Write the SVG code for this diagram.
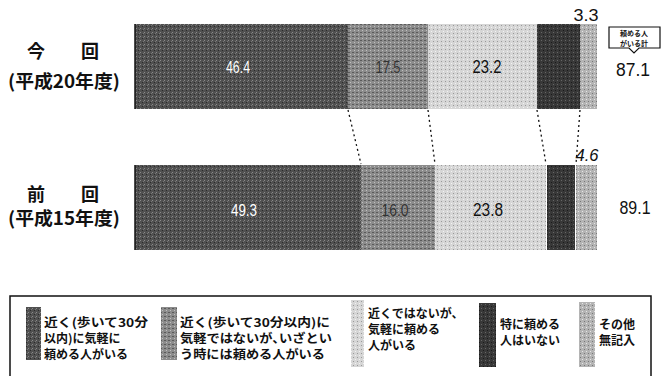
<svg xmlns="http://www.w3.org/2000/svg" width="671" height="376" viewBox="0 0 671 376">
<style>
.jp{font-family:"Noto Sans CJK JP","Noto Sans CJK SC",sans-serif;font-weight:bold;fill:#111}
.lg{font-family:"Noto Sans CJK JP","Noto Sans CJK SC",sans-serif;font-weight:bold;fill:#111;font-size:12px}
.num{font-family:"Liberation Sans","DejaVu Sans",sans-serif;text-anchor:middle}
.conn{stroke:#111;stroke-width:1.3;stroke-dasharray:2 3;fill:none}
</style>
<defs>
<pattern id="p1" width="4" height="4" patternUnits="userSpaceOnUse"><rect width="4" height="4" fill="#505050"/><rect x="0" y="0" width="1" height="1" fill="#8a8a8a"/><rect x="2" y="2" width="1" height="1" fill="#2a2a2a"/><rect x="3" y="1" width="1" height="1" fill="#777"/></pattern>
<pattern id="p2" width="4" height="4" patternUnits="userSpaceOnUse"><rect width="4" height="4" fill="#8c8c8c"/><rect x="0" y="0" width="2" height="1" fill="#5a5a5a"/><rect x="2" y="2" width="1" height="1" fill="#c0c0c0"/></pattern>
<pattern id="p3" width="4" height="4" patternUnits="userSpaceOnUse"><rect width="4" height="4" fill="#d6d6d6"/><rect x="1" y="1" width="1" height="1" fill="#999"/><rect x="3" y="3" width="1" height="1" fill="#f2f2f2"/></pattern>
<pattern id="p4" width="4" height="4" patternUnits="userSpaceOnUse"><rect width="4" height="4" fill="#383838"/><rect x="1" y="0" width="1" height="1" fill="#666"/><rect x="3" y="2" width="1" height="1" fill="#1a1a1a"/></pattern>
<pattern id="p5" width="4" height="4" patternUnits="userSpaceOnUse"><rect width="4" height="4" fill="#b4b4b4"/><rect x="0" y="1" width="1" height="1" fill="#777"/><rect x="2" y="3" width="1" height="1" fill="#e6e6e6"/></pattern>
</defs>
<rect width="671" height="376" fill="#fff"/>

<g id="label-now">
<text class="jp" x="27" y="58" font-size="18">今　　回</text>
<text class="jp" x="8" y="88" font-size="18" textLength="112" lengthAdjust="spacingAndGlyphs">(平成20年度)</text>
</g>
<g id="label-prev">
<text class="jp" x="27" y="201" font-size="18">前　　回</text>
<text class="jp" x="8" y="225" font-size="18" textLength="112" lengthAdjust="spacingAndGlyphs">(平成15年度)</text>
</g>

<g id="bar-now">
<rect x="135" y="24" width="213" height="85" fill="url(#p1)"/>
<rect x="348" y="24" width="80" height="85" fill="url(#p2)"/>
<rect x="428" y="24" width="109" height="85" fill="url(#p3)"/>
<rect x="537" y="24" width="43" height="85" fill="url(#p4)"/>
<rect x="580" y="24" width="17" height="85" fill="url(#p5)"/>
<line x1="135" y1="24" x2="135" y2="109" stroke="#111" stroke-width="1.5"/>
<text class="num" x="238" y="73" font-size="17" fill="#fff" textLength="24" lengthAdjust="spacingAndGlyphs">46.4</text>
<text class="num" x="388" y="73" font-size="17" fill="#333" textLength="25" lengthAdjust="spacingAndGlyphs">17.5</text>
<text class="num" x="487" y="73" font-size="18" fill="#111" textLength="29" lengthAdjust="spacingAndGlyphs">23.2</text>
<text class="num" x="586" y="21" font-size="17" fill="#111" textLength="25" lengthAdjust="spacingAndGlyphs">3.3</text>
</g>

<g id="bar-prev">
<rect x="135" y="165" width="226" height="85" fill="url(#p1)"/>
<rect x="361" y="165" width="74" height="85" fill="url(#p2)"/>
<rect x="435" y="165" width="111" height="85" fill="url(#p3)"/>
<rect x="547" y="165" width="28" height="85" fill="url(#p4)"/>
<rect x="576" y="165" width="21" height="85" fill="url(#p5)"/>
<line x1="135" y1="165" x2="135" y2="250" stroke="#111" stroke-width="1.5"/>
<text class="num" x="244" y="216" font-size="17" fill="#fff" textLength="26" lengthAdjust="spacingAndGlyphs">49.3</text>
<text class="num" x="395" y="216" font-size="17" fill="#333" textLength="27" lengthAdjust="spacingAndGlyphs">16.0</text>
<text class="num" x="488" y="216" font-size="18" fill="#111" textLength="30" lengthAdjust="spacingAndGlyphs">23.8</text>
<text class="num" x="587" y="161" font-size="16" fill="#111" font-style="italic" textLength="23" lengthAdjust="spacingAndGlyphs">4.6</text>
</g>

<g id="total">
<path d="M609,27 H660 V48 H639 L634,53 L629,48 H609 Z" fill="#fff" stroke="#111" stroke-width="1.2"/>
<text class="jp" x="634" y="36" font-size="7" text-anchor="middle">頼める人</text>
<text class="jp" x="634" y="46" font-size="7" text-anchor="middle">がいる計</text>
<text class="num" x="633" y="76" font-size="18" fill="#111" textLength="34" lengthAdjust="spacingAndGlyphs">87.1</text>
<text class="num" x="635" y="214" font-size="18" fill="#111" textLength="31" lengthAdjust="spacingAndGlyphs">89.1</text>
</g>

<g id="connectors">
<line class="conn" x1="348" y1="110" x2="361" y2="164"/>
<line class="conn" x1="428" y1="110" x2="435" y2="164"/>
<line class="conn" x1="537" y1="110" x2="546" y2="164"/>
<line class="conn" x1="580" y1="110" x2="576" y2="164"/>
</g>

<g id="legend">
<rect x="10" y="296" width="641" height="90" fill="none" stroke="#111" stroke-width="1.5"/>
<g id="leg1">
<rect x="26" y="307" width="15" height="53" fill="url(#p1)"/>
<text class="lg" x="44" y="327" textLength="104" lengthAdjust="spacingAndGlyphs">近く(歩いて30分</text>
<text class="lg" x="44" y="343">以内)に気軽に</text>
<text class="lg" x="44" y="359">頼める人がいる</text>
</g>
<g id="leg2">
<rect x="161" y="307" width="16" height="53" fill="url(#p2)"/>
<text class="lg" x="180" y="327" textLength="150" lengthAdjust="spacingAndGlyphs">近く(歩いて30分以内)に</text>
<text class="lg" x="180" y="343" textLength="152" lengthAdjust="spacingAndGlyphs">気軽ではないが､いざとい</text>
<text class="lg" x="180" y="359" textLength="145" lengthAdjust="spacingAndGlyphs">う時には頼める人がいる</text>
</g>
<g id="leg3">
<rect x="351" y="300" width="13" height="67" fill="url(#p3)"/>
<text class="lg" x="368" y="318">近くではないが､</text>
<text class="lg" x="368" y="334">気軽に頼める</text>
<text class="lg" x="368" y="350">人がいる</text>
</g>
<g id="leg4">
<rect x="479" y="303" width="17" height="64" fill="url(#p4)"/>
<text class="lg" x="500" y="329">特に頼める</text>
<text class="lg" x="500" y="345">人はいない</text>
</g>
<g id="leg5">
<rect x="579" y="302" width="16" height="65" fill="url(#p5)"/>
<text class="lg" x="599" y="329">その他</text>
<text class="lg" x="599" y="345">無記入</text>
</g>
</g>
</svg>
